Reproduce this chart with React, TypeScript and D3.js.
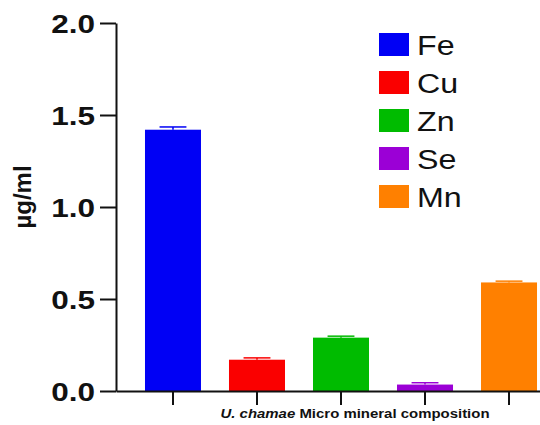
import { useEffect, useRef } from 'react';
import * as d3 from 'd3';

const minerals = ['Fe', 'Cu', 'Zn', 'Se', 'Mn'];
const means = [1.42, 0.17, 0.29, 0.035, 0.59];
const errors = [0.015, 0.01, 0.008, 0.01, 0.007];
const colors = ['#0000f5', '#fa0000', '#00bb00', '#9b00d6', '#ff8000'];
const yTicks = [0, 0.5, 1.0, 1.5, 2.0];

const FONT = '"Liberation Sans", Arial, sans-serif';

export default function App() {
  const svgRef = useRef<SVGSVGElement>(null);

  useEffect(() => {
    if (!svgRef.current) return;
    const svg = d3.select(svgRef.current);
    svg.selectAll('*').remove();

    const width = 540;
    const height = 425;
    const margin = { top: 23, left: 116, bottom: 34 };
    const y0 = height - margin.bottom;

    const yScale = d3.scaleLinear().domain([0, 2]).range([y0, margin.top]);
    const xScale = d3.scaleBand()
      .domain(minerals)
      .range([margin.left, 566])
      .paddingInner(1 / 3)
      .paddingOuter(0.345);

    const data = minerals.map((m, i) => ({ m, v: means[i], e: errors[i], c: colors[i] }));
    const bw = xScale.bandwidth();

    // Bars
    svg.selectAll('.bar')
      .data(data)
      .enter()
      .append('rect')
      .attr('x', d => xScale(d.m)!)
      .attr('y', d => yScale(d.v))
      .attr('width', bw)
      .attr('height', d => y0 - yScale(d.v))
      .attr('fill', d => d.c);

    // Error bars (cap + stem)
    const capW = bw * 0.48;
    svg.selectAll('.cap')
      .data(data)
      .enter()
      .append('line')
      .attr('x1', d => xScale(d.m)! + bw / 2 - capW / 2)
      .attr('x2', d => xScale(d.m)! + bw / 2 + capW / 2)
      .attr('y1', d => yScale(d.v + d.e))
      .attr('y2', d => yScale(d.v + d.e))
      .attr('stroke', d => d.c)
      .attr('stroke-width', 1.5);
    svg.selectAll('.stem')
      .data(data)
      .enter()
      .append('line')
      .attr('x1', d => xScale(d.m)! + bw / 2)
      .attr('x2', d => xScale(d.m)! + bw / 2)
      .attr('y1', d => yScale(d.v))
      .attr('y2', d => yScale(d.v + d.e))
      .attr('stroke', d => d.c)
      .attr('stroke-width', 1.5);

    // Y axis
    const yAxis = svg.append('g')
      .attr('transform', `translate(${margin.left},0)`)
      .call(d3.axisLeft(yScale).tickValues(yTicks).tickSize(16).tickSizeOuter(0).tickPadding(5).tickFormat(d3.format('.1f')));
    yAxis.select('.domain').attr('stroke', '#111').attr('stroke-width', 2);
    yAxis.selectAll('.tick line').attr('stroke', '#111').attr('stroke-width', 2);
    yAxis.selectAll('.tick text')
      .attr('x', 0)
      .attr('transform', 'translate(-21,0) scale(1.26,1)')
      .attr('fill', '#111')
      .attr('dy', '0.36em')
      .style('font-family', FONT)
      .style('font-weight', 'bold')
      .style('font-size', '25px');

    // X axis
    const xAxis = svg.append('g')
      .attr('transform', `translate(0,${y0})`)
      .call(d3.axisBottom(xScale).tickSize(14).tickSizeOuter(0).tickFormat(() => ''));
    xAxis.select('.domain').attr('stroke', '#111').attr('stroke-width', 2);
    xAxis.selectAll('.tick line').attr('stroke', '#111').attr('stroke-width', 2);

    // Y title
    svg.append('text')
      .attr('transform', `translate(31,197) rotate(-90)`)
      .attr('text-anchor', 'middle')
      .attr('fill', '#111')
      .style('font-family', FONT)
      .style('font-weight', 'bold')
      .style('font-size', '24px')
      .text('µg/ml');

    // X title
    const xt = svg.append('text')
      .attr('transform', 'translate(355,418) scale(1.15,1)')
      .attr('text-anchor', 'middle')
      .attr('fill', '#111')
      .style('font-family', FONT)
      .style('font-weight', 'bold')
      .style('font-size', '13px');
    xt.append('tspan').style('font-style', 'italic').text('U. chamae');
    xt.append('tspan').text(' Micro mineral composition');

    // Legend
    const legend = svg.append('g').attr('transform', 'translate(379,33)');
    const rows = legend.selectAll('g')
      .data(data)
      .enter()
      .append('g')
      .attr('transform', (_, i) => `translate(0,${i * 38})`);
    rows.append('rect')
      .attr('width', 30)
      .attr('height', 23)
      .attr('fill', d => d.c);
    rows.append('text')
      .attr('transform', 'translate(38,22) scale(1.15,1)')
      .attr('fill', '#111')
      .style('font-family', FONT)
      .style('font-size', '28px')
      .text(d => d.m);

    svg.attr('width', width).attr('height', height);
  }, []);

  return (
    <svg
      ref={svgRef}
      width={540}
      height={425}
      style={{ position: 'absolute', left: 0, top: 0, background: '#fff' }}
    />
  );
}
